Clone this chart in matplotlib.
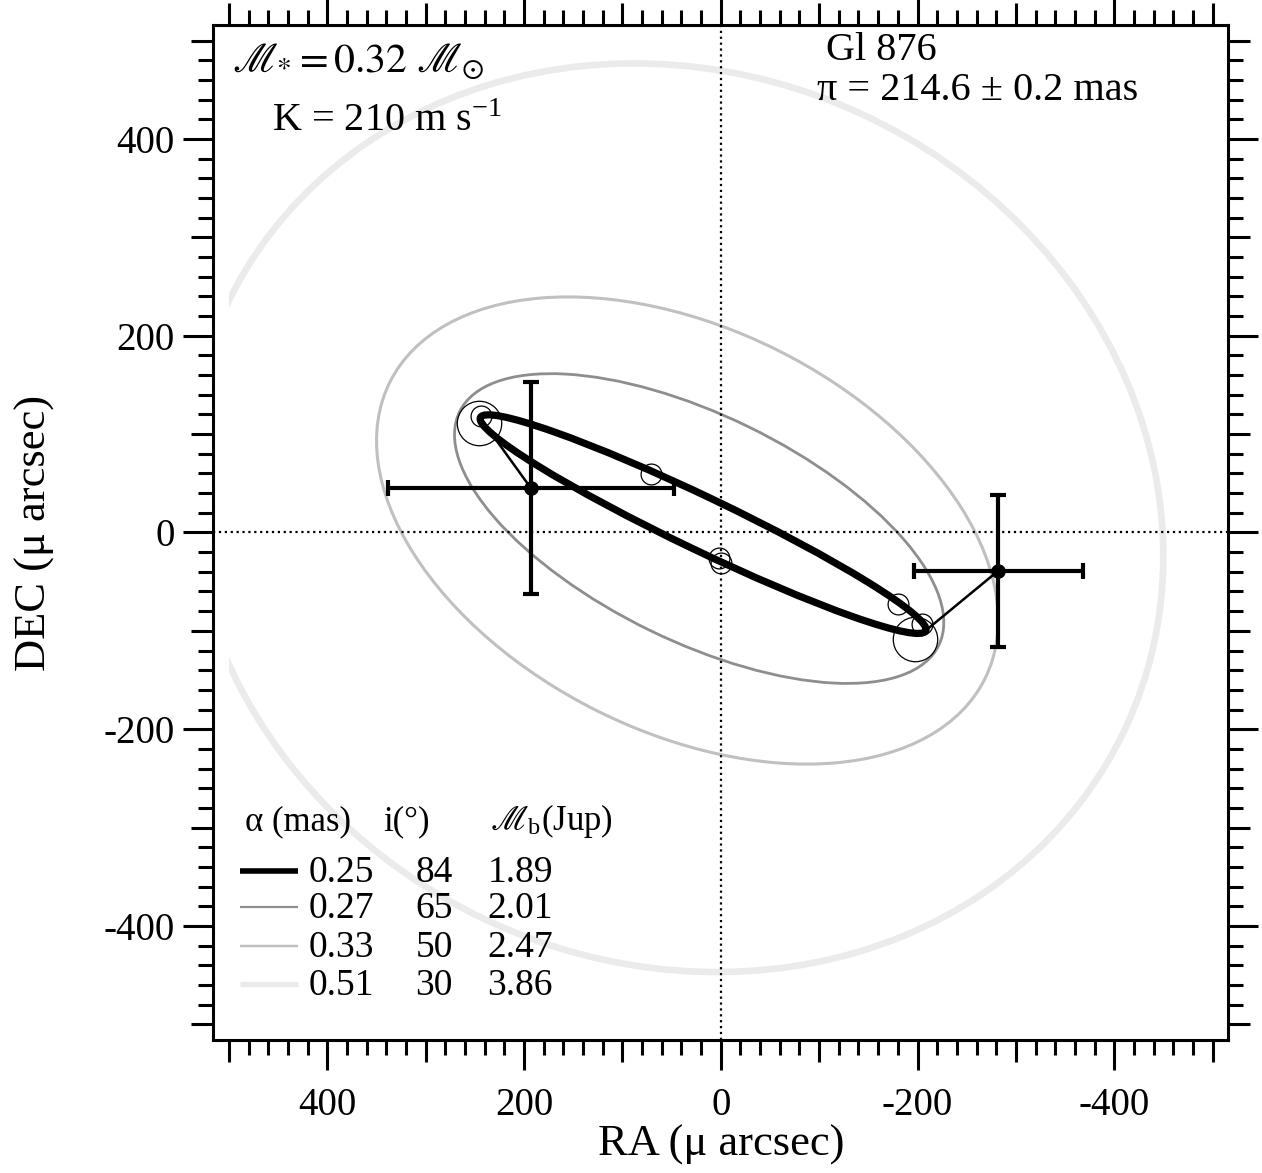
import numpy as np
import matplotlib
matplotlib.use('Agg')
import matplotlib.pyplot as plt
from matplotlib.patches import Ellipse, Rectangle
from matplotlib.ticker import MultipleLocator

plt.rcParams['font.family'] = ['Liberation Serif', 'DejaVu Serif']
plt.rcParams['mathtext.fontset'] = 'stix'
plt.rcParams['axes.unicode_minus'] = False

# ---------------------------
# Data (micro-arcsec)
# ---------------------------
# legend table
alpha_mas = ['0.25', '0.27', '0.33', '0.51']
incl_deg = ['84', '65', '50', '30']
mass_jup = ['1.89', '2.01', '2.47', '3.86']

# projected orbits: centre, semi-axes, tilt
orb_cx = [18, 22, 34, 46]
orb_cy = [8.5, 4, 2, 15]
orb_a = [251, 271, 338, 505]
orb_b = [27, 115, 205, 452]
orb_ang = [25.6, 26, 26.5, 25]
orb_col = ['black', '#8e8e8e', '#c0c0c0', '#ebebeb']
orb_lw = [5.2, 2.0, 2.2, 4.8]

# measured positions with errors
obs_ra = [193, -282]
obs_dec = [45, -39]
obs_era = [145, 86]
obs_edec = [108, 77]

# model positions at those epochs
pred_ra = [245, -208]
pred_dec = [117, -100]

# open circles on the orbit
small_ra = [244, 71, 2, 0, -180, -205]
small_dec = [118, 59, -26, -31, -73, -93]
big_ra = [246, -197]
big_dec = [111, -108]

# ---------------------------
# Figure
# ---------------------------
fig = plt.figure(figsize=(12.62, 11.73), dpi=100)
ax = fig.add_axes([0.169, 0.1134, 0.8043, 0.8653])
ax.set_xlim(516, -516)
ax.set_ylim(-516, 516)

# clip region for the outer orbit (plot range only to +500 in RA)
clip = Rectangle((-520, -520), 1020, 1040, transform=ax.transData)

for i in range(3, -1, -1):
    e = Ellipse((orb_cx[i], orb_cy[i]), 2 * orb_a[i], 2 * orb_b[i], angle=orb_ang[i],
                fill=False, edgecolor=orb_col[i], linewidth=orb_lw[i], zorder=2 + (3 - i) * 0.1)
    ax.add_patch(e)
    if i == 3:
        e.set_clip_path(clip)

ax.axhline(0, color='black', linestyle=':', linewidth=1.6, zorder=2.5)
ax.axvline(0, color='black', linestyle=':', linewidth=1.6, zorder=2.5)

# link measured -> model
for k in range(len(obs_ra)):
    ax.plot([obs_ra[k], pred_ra[k]], [obs_dec[k], pred_dec[k]], color='black', lw=1.8, zorder=4)

ax.errorbar(obs_ra, obs_dec, xerr=obs_era, yerr=obs_edec, fmt='o', color='black',
            ms=9.5, elinewidth=3, capsize=6, capthick=3, zorder=5)

ax.plot(small_ra, small_dec, 'o', ms=15, mfc='none', mec='black', mew=0.9, zorder=6)
ax.plot(big_ra, big_dec, 'o', ms=32, mfc='none', mec='black', mew=0.9, zorder=6)

# ---------------------------
# Axes style
# ---------------------------
for s in ax.spines.values():
    s.set_linewidth(2.2)
ax.xaxis.set_major_locator(MultipleLocator(200))
ax.xaxis.set_minor_locator(MultipleLocator(20))
ax.yaxis.set_major_locator(MultipleLocator(200))
ax.yaxis.set_minor_locator(MultipleLocator(20))
ax.tick_params(which='both', direction='out', top=True, right=True, width=2.2)
ax.tick_params(which='major', length=21.6, labelsize=28)
ax.tick_params(which='minor', length=10.8)
ax.tick_params(axis='x', which='major', pad=12)
ax.tick_params(axis='y', which='major', pad=6)

# medium ticks every 100
for axis in (ax.xaxis, ax.yaxis):
    locs = axis.get_minorticklocs()
    ticks = axis.get_minor_ticks(len(locs))
    for loc, t in zip(locs, ticks):
        if int(round(loc)) % 100 == 0:
            t.tick1line.set_markersize(15.8)
            t.tick2line.set_markersize(15.8)

ax.set_xlabel('RA (μ arcsec)', fontsize=32)
ax.set_ylabel('DEC (μ arcsec)', fontsize=32)
ax.xaxis.set_label_coords(0.5, -0.083)
ax.yaxis.set_label_coords(-0.156, 0.5)

# ---------------------------
# Annotations
# ---------------------------
fs = 29
ax.text(0.0187, 0.9537, r'$\mathscr{M}_{*} = 0.32\ \mathscr{M}_{\odot}$', transform=ax.transAxes,
        fontsize=30, va='baseline', ha='left')
ax.text(0.058, 0.8956, r'K = 210 m s$^{\mathregular{-1}}$', transform=ax.transAxes,
        fontsize=fs, va='baseline', ha='left')
ax.text(0.604, 0.9655, 'Gl 876', transform=ax.transAxes, fontsize=fs, va='baseline', ha='left')
ax.text(0.595, 0.9265, 'π = 214.6 ± 0.2 mas', transform=ax.transAxes, fontsize=fs,
        va='baseline', ha='left')

# legend table
fh, fr = 25, 27
ax.text(0.0315, 0.2069, 'α (mas)', transform=ax.transAxes, fontsize=fh, va='baseline')
ax.text(0.1675, 0.2069, 'i(°)', transform=ax.transAxes, fontsize=fh, va='baseline')
ax.text(0.2729, 0.2069, r'$\mathscr{M}_{\mathregular{b}}$(Jup)', transform=ax.transAxes,
        fontsize=fh, va='baseline')
row_base = [0.1557, 0.1202, 0.0818, 0.0443]
for k in range(4):
    yb = row_base[k]
    ax.plot([0.0266, 0.0837], [yb + 0.011, yb + 0.011], transform=ax.transAxes,
            color=orb_col[k], lw=orb_lw[k] * 0.8 if k != 0 else 4, solid_capstyle='butt')
    ax.text(0.0936, yb, alpha_mas[k], transform=ax.transAxes, fontsize=fr, va='baseline')
    ax.text(0.199, yb, incl_deg[k], transform=ax.transAxes, fontsize=fr, va='baseline')
    ax.text(0.270, yb, mass_jup[k], transform=ax.transAxes, fontsize=fr, va='baseline')

fig.savefig('out.png', dpi=100)
